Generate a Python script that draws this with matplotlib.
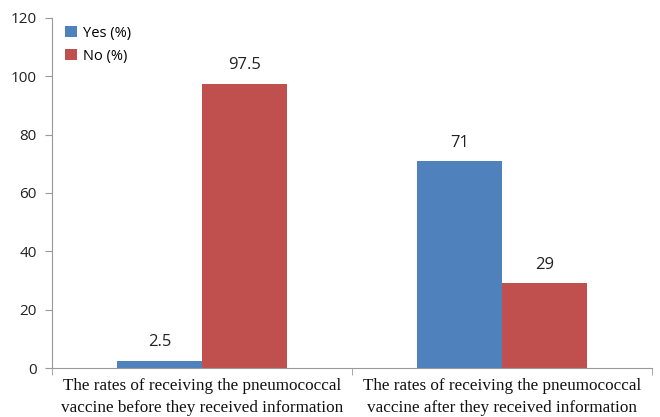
import matplotlib.pyplot as plt
import numpy as np

categories = ['The rates of receiving the pneumococcal\nvaccine before they received information',
              'The rates of receiving the pneumococcal\nvaccine after they received information']
yes_vals = [2.5, 71]
no_vals = [97.5, 29]
yes_labels = ['2.5', '71']
no_labels = ['97.5', '29']

blue = '#4F81BD'
red = '#C0504D'

fig = plt.figure(figsize=(6.6, 4.17), dpi=100)
ax = fig.add_axes([0.079, 0.1175, 0.909, 0.8395])

x = np.arange(len(categories))
w = 0.283
b1 = ax.bar(x - w / 2, yes_vals, w, color=blue, label='Yes (%)')
b2 = ax.bar(x + w / 2, no_vals, w, color=red, label='No (%)')

for bars, labs in [(b1, yes_labels), (b2, no_labels)]:
    for bar, lab in zip(bars, labs):
        ax.text(bar.get_x() + bar.get_width() / 2, bar.get_height() + 3.5, lab,
                ha='center', va='bottom', fontsize=12, family='Open Sans', color='#222222')

ax.set_xlim(-0.5, 1.5)
ax.set_ylim(0, 120)
ax.set_yticks(np.arange(0, 121, 20))
ax.tick_params(axis='y', labelsize=11, length=5, pad=6, color='#999999', labelcolor='#222222')
for t in ax.get_yticklabels():
    t.set_family('Open Sans')

ax.set_xticks(x)
ax.set_xticklabels(categories, family='Liberation Serif', fontsize=12.3, linespacing=1.55,
                   color='#111111')
ax.tick_params(axis='x', length=0, pad=7)
ax.set_xticks([-0.5, 0.5, 1.5], minor=True)
ax.tick_params(axis='x', which='minor', length=5, color='#999999')

ax.spines['top'].set_visible(False)
ax.spines['right'].set_visible(False)
ax.spines['left'].set_color('#999999')
ax.spines['bottom'].set_color('#999999')

leg = ax.legend(loc='upper left', bbox_to_anchor=(0.0, 1.015), frameon=False,
                prop={'family': 'Open Sans', 'size': 10.5}, handlelength=0.8, handleheight=0.8,
                handletextpad=0.4, labelspacing=0.55)

fig.savefig('out.png', dpi=100)
